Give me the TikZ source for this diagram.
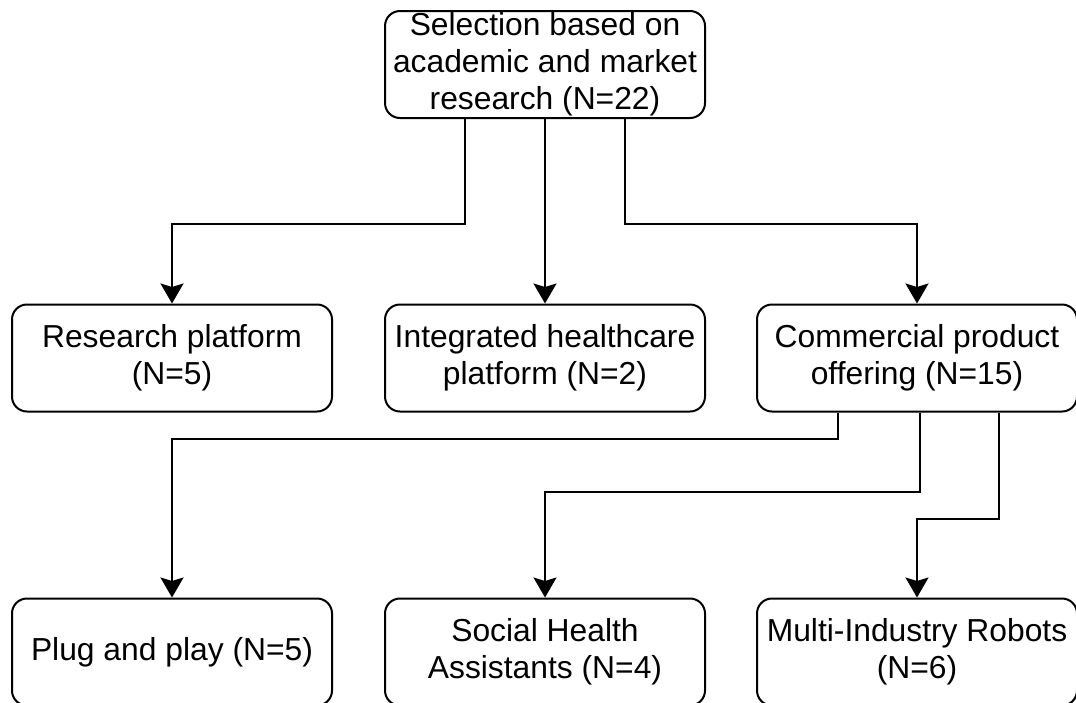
\documentclass[tikz,border=0pt]{standalone}
\usepackage{fontspec}
\setmainfont{Liberation Sans}
\usetikzlibrary{arrows.meta,calc}
\begin{document}
\begin{tikzpicture}[x=1pt,y=-1pt,
  box/.style={draw=black, line width=2pt, rounded corners=15pt, fill=white,
    minimum width=320pt, minimum height=107pt, inner sep=0pt, align=center,
    font=\fontsize{31.8}{36.8}\selectfont},
  arr/.style={draw=black, line width=2pt,
    -{Stealth[length=20pt, width=23pt, inset=3.5pt]}},
]
\useasboundingbox (0,0) rectangle (1076,702);
\fill[white] (0,0) rectangle (1076,702);

% source box
\node[box] (src) at (545,64.5) {Selection based on\\academic and market\\research (N=22)};

% first level
\node[box] (rp) at (172,358) {Research platform\\(N=5)};
\node[box] (ih) at (545,358) {Integrated healthcare\\platform (N=2)};
\node[box] (cp) at (917,358) {Commercial product\\offering (N=15)};

% second level
\node[box] (pp)  at (172,652) {Plug and play (N=5)};
\node[box] (sha) at (545,652) {Social Health\\Assistants (N=4)};
\node[box] (mir) at (917,652) {Multi-Industry Robots\\(N=6)};

% connectors from the source box
\draw[arr] ([xshift=-80pt]src.south) -- ++(0,105) -| (rp.north);
\draw[arr] (src.south) -- (ih.north);
\draw[arr] ([xshift=80pt]src.south) -- ++(0,105) -| (cp.north);

% connectors from the commercial box
\draw[arr] ([xshift=-79pt]cp.south) -- ++(0,26) -| (pp.north);
\draw[arr] ([xshift=3pt]cp.south) -- ++(0,79) -| (sha.north);
\draw[arr] ([xshift=82pt]cp.south) -- ++(0,106) -| (mir.north);
\end{tikzpicture}
\end{document}
